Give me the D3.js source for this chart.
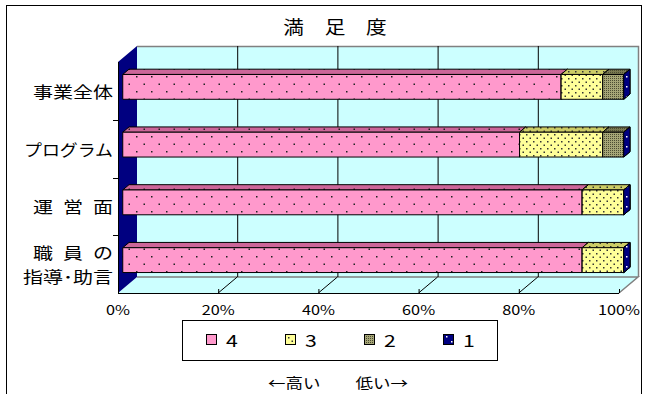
<!DOCTYPE html>
<html>
<head>
<meta charset="utf-8">
<script src="https://cdn.jsdelivr.net/npm/d3@7"></script>
<style>
  body { margin: 0; background: #fff; }
  text { font-family: "Noto Sans CJK JP", sans-serif; fill: #000; }
</style>
</head>
<body>
<div id="chart"></div>
<script>
var categories = ['事業全体', 'プログラム', '運営面', '職員の指導・助言'];
var categoryLines = [['事業全体'], ['プログラム'], ['運\u2002営\u2002面'], ['職\u2002員\u2002の', '指導･助言']];
var seriesNames = ['4', '3', '2', '1'];
// percentages, one array per answer level
var level4 = [87.5, 79.2, 91.7, 91.7];
var level3 = [8.3, 16.6, 8.3, 8.3];
var level2 = [4.2, 4.2, 0, 0];
var level1 = [0, 0, 0, 0];
var tickValues = [0, 20, 40, 60, 80, 100];
var titleText = '満　足　度';
var noteText = '←高い　　低い→';

var width = 646, height = 394;
var front = {left: 118, top: 62, bottom: 293},
  depth = {dx: 19, dy: -16},
  plotWidth = 501,
  barDepth = {t0: 0.25, t1: 0.58},
  stretch = 1.25;

var colors = [
  {front: '#FF99CC', top: '#CC6699', side: '#CC6699', dot: '#222222', step: 15},
  {front: '#FFFF99', top: '#CCCC66', side: '#CCCC66', dot: '#333333', step: 7},
  {front: '#A6A677', top: '#7A7A52', side: '#8A8A5C', dot: '#4D4D33', step: 2},
  {front: '#000080', top: '#000066', side: '#000080', dot: '#FFFFFF', step: 10}
];

var series = [level4, level3, level2, level1];

var svg = d3.select('#chart').append('svg')
  .attr('width', width).attr('height', height);

var defs = svg.append('defs');
colors.forEach(function(c, i) {
  ['front', 'top', 'side'].forEach(function(face) {
    var s = c.step;
    var p = defs.append('pattern')
      .attr('id', 'p' + i + face)
      .attr('patternUnits', 'userSpaceOnUse')
      .attr('width', s).attr('height', s);
    p.append('rect').attr('width', s).attr('height', s).attr('fill', c[face]);
    if (s <= 2) {
      p.append('rect').attr('width', 1).attr('height', 1).attr('fill', c.dot);
    } else {
      var r = 1.5;
      p.append('rect').attr('x', 1).attr('y', 1).attr('width', r).attr('height', r).attr('fill', c.dot);
      p.append('rect').attr('x', 1 + s / 2).attr('y', 1 + s / 2).attr('width', r).attr('height', r).attr('fill', c.dot);
    }
  });
});

// outer frame
svg.append('rect')
  .attr('x', 6.5).attr('y', 5.5).attr('width', 635).attr('height', 420)
  .attr('fill', 'none').attr('stroke', '#000').attr('stroke-width', 1);

function stretchedText(g, x, y, txt, size, anchor, sx) {
  return g.append('text')
    .attr('transform', 'translate(' + x + ',' + y + ') scale(' + (sx || stretch) + ',1)')
    .attr('text-anchor', anchor || 'middle')
    .attr('dominant-baseline', 'central')
    .attr('font-size', size)
    .text(txt);
}

stretchedText(svg, 335, 27, titleText, 18, 'middle', 1.15);

var xScale = d3.scaleLinear().domain([0, 100]).range([0, plotWidth]);
var yScale = d3.scaleBand().domain(categories)
  .range([front.top, front.bottom])
  .paddingInner(0.57).paddingOuter(0.285);

var backLeft = front.left + depth.dx,
  backTop = front.top + depth.dy,
  backBottom = front.bottom + depth.dy;

// back wall
svg.append('rect')
  .attr('x', backLeft).attr('y', backTop)
  .attr('width', plotWidth).attr('height', backBottom - backTop)
  .attr('fill', '#CCFFFF');
svg.append('polyline')
  .attr('points', [[backLeft, backTop + 0.5], [backLeft + plotWidth + 0.5, backTop + 0.5], [backLeft + plotWidth + 0.5, backBottom]].join(' '))
  .attr('fill', 'none').attr('stroke', '#808080').attr('stroke-width', 1.5);

// floor
var floorPts = [[front.left, front.bottom], [backLeft, backBottom], [backLeft + plotWidth, backBottom], [front.left + plotWidth, front.bottom]];
svg.append('polygon').attr('points', floorPts.join(' ')).attr('fill', '#CCFFFF');
svg.append('polyline')
  .attr('points', [floorPts[1], floorPts[2], floorPts[3]].join(' '))
  .attr('fill', 'none').attr('stroke', '#808080').attr('stroke-width', 1.5);

// gridlines on wall and floor
var inner = tickValues.filter(function(v) { return v > 0 && v < 100; });
svg.selectAll('line.grid').data(inner).enter().append('line')
  .attr('class', 'grid')
  .attr('x1', function(d) { return backLeft + xScale(d) + 0.5; })
  .attr('x2', function(d) { return backLeft + xScale(d) + 0.5; })
  .attr('y1', backTop).attr('y2', backBottom)
  .attr('stroke', '#000');
svg.selectAll('line.floorgrid').data(inner).enter().append('line')
  .attr('class', 'floorgrid')
  .attr('x1', function(d) { return backLeft + xScale(d); })
  .attr('y1', backBottom)
  .attr('x2', function(d) { return front.left + xScale(d); })
  .attr('y2', front.bottom)
  .attr('stroke', '#000');

// left wall
svg.append('polygon')
  .attr('points', [[front.left, front.top], [backLeft, backTop], [backLeft, backBottom], [front.left, front.bottom]].join(' '))
  .attr('fill', '#000080');

// bars: stacked boxes, each category drawn left to right
var stacked = categories.map(function(c, ci) {
  var acc = 0;
  return series.map(function(s, si) {
    var seg = {cat: c, si: si, x0: acc, x1: acc + s[ci]};
    acc += s[ci];
    return seg;
  });
});

var ox = front.left + depth.dx * barDepth.t0,
  oy = depth.dy * barDepth.t0,
  bdx = depth.dx * (barDepth.t1 - barDepth.t0),
  bdy = depth.dy * (barDepth.t1 - barDepth.t0);

var barsG = svg.append('g');
stacked.forEach(function(segs) {
  segs.forEach(function(d) {
    var xa = ox + xScale(d.x0), xb = ox + xScale(Math.min(d.x1, 100));
    var yt = yScale(d.cat) + oy, yb = yt + yScale.bandwidth();
    var g = barsG.append('g').attr('stroke', '#000').attr('stroke-width', 1).attr('stroke-linejoin', 'round');
    if (xb - xa > 0.01) {
      g.append('polygon')
        .attr('points', [[xa, yt], [xa + bdx, yt + bdy], [xb + bdx, yt + bdy], [xb, yt]].join(' '))
        .attr('fill', 'url(#p' + d.si + 'top)');
      g.append('rect')
        .attr('x', xa).attr('y', yt).attr('width', xb - xa).attr('height', yb - yt)
        .attr('fill', 'url(#p' + d.si + 'front)');
    }
    g.append('polygon')
      .attr('points', [[xb, yt], [xb + bdx, yt + bdy], [xb + bdx, yb + bdy], [xb, yb]].join(' '))
      .attr('fill', 'url(#p' + d.si + 'side)');
  });
});

// category axis
svg.append('line')
  .attr('x1', front.left + 0.5).attr('x2', front.left + 0.5)
  .attr('y1', front.top).attr('y2', front.bottom)
  .attr('stroke', '#000');
var bounds = categories.slice(1).map(function(c) { return yScale(c) - yScale.step() * yScale.paddingInner() / 2; });
svg.selectAll('line.ytick').data(bounds).enter().append('line')
  .attr('x1', front.left - 5).attr('x2', front.left)
  .attr('y1', function(d) { return Math.round(d) + 0.5; })
  .attr('y2', function(d) { return Math.round(d) + 0.5; })
  .attr('stroke', '#000');

categoryLines.forEach(function(lines, i) {
  var cy = yScale(categories[i]) + yScale.bandwidth() / 2;
  lines.forEach(function(l, j) {
    var y = cy + (j - (lines.length - 1) / 2) * 24;
    // the katakana label is set a little tighter, as in the original
    var sx = /[ァ-ヶ]/.test(l) ? 1.12 : stretch;
    stretchedText(svg, 113, y, l, 16, 'end', sx);
  });
});

// value axis along the front edge of the floor
svg.append('line')
  .attr('x1', front.left).attr('x2', front.left + plotWidth)
  .attr('y1', front.bottom + 0.5).attr('y2', front.bottom + 0.5)
  .attr('stroke', '#000');
svg.selectAll('line.xtick').data(tickValues).enter().append('line')
  .attr('x1', function(d) { return front.left + xScale(d) + 0.5; })
  .attr('x2', function(d) { return front.left + xScale(d) + 0.5; })
  .attr('y1', front.bottom - 4).attr('y2', front.bottom)
  .attr('stroke', '#000');
tickValues.forEach(function(v) {
  stretchedText(svg, front.left + xScale(v), 309, v + '%', 13);
});

// legend
var legend = svg.append('g');
legend.append('rect')
  .attr('x', 182.5).attr('y', 320.5).attr('width', 315).attr('height', 40)
  .attr('fill', '#fff').attr('stroke', '#000');
var legendX = d3.scalePoint().domain(seriesNames).range([206, 443]);
seriesNames.forEach(function(name, i) {
  legend.append('rect')
    .attr('x', legendX(name) + 0.5).attr('y', 334.5).attr('width', 10).attr('height', 10)
    .attr('fill', 'url(#p' + i + 'front)').attr('stroke', '#000');
  stretchedText(legend, legendX(name) + 20, 340, name, 17, 'start');
});

stretchedText(svg, 338, 382, noteText, 14);
</script>
</body>
</html>
